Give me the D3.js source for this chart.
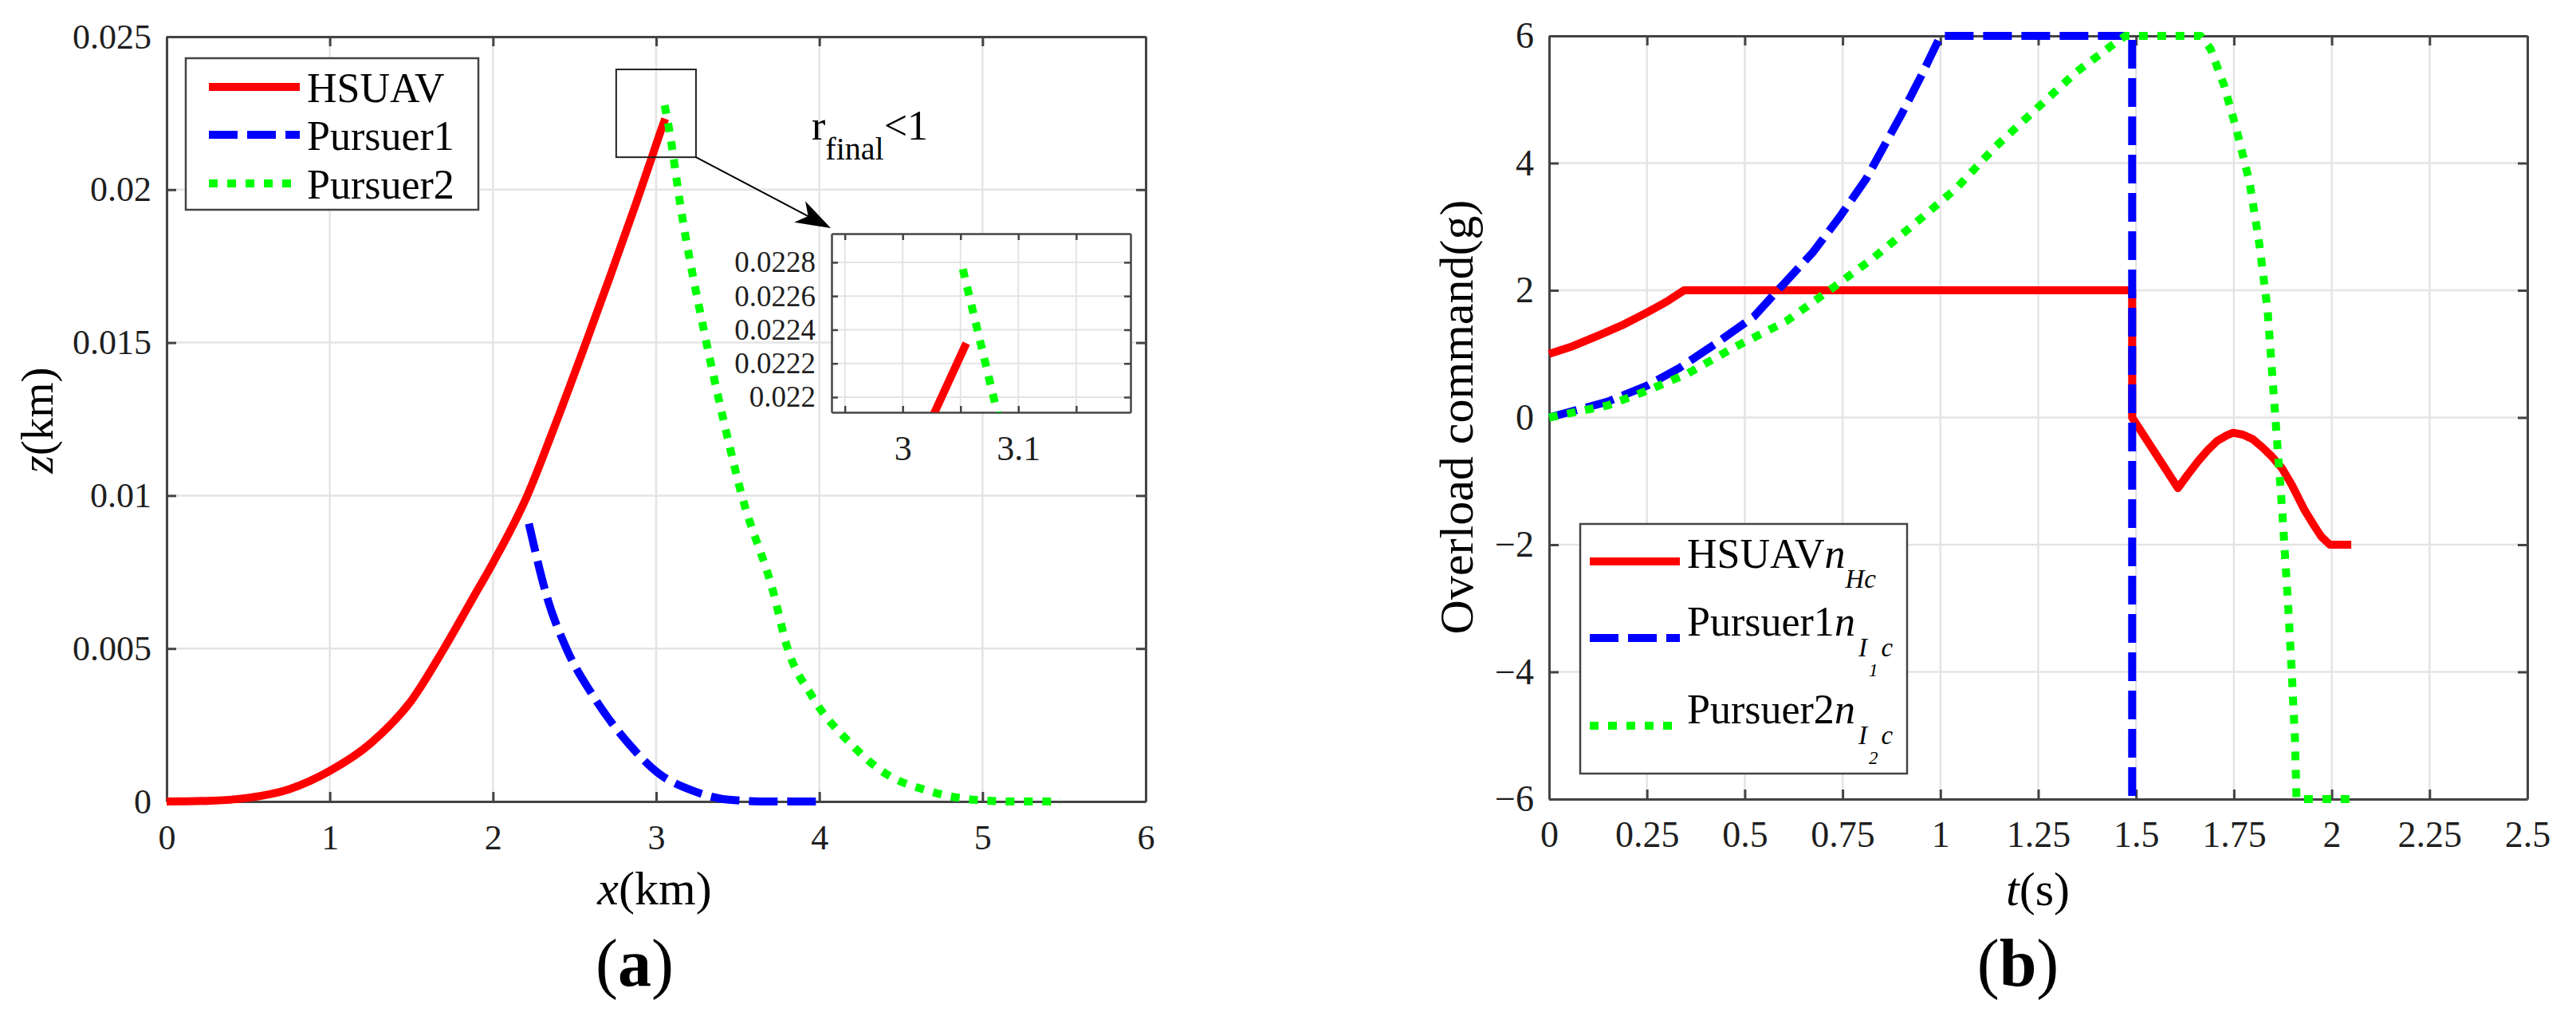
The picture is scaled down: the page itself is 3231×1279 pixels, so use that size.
<!DOCTYPE html>
<html>
<head>
  <meta charset="utf-8">
  <title>Trajectories and overload commands</title>
  <script type="text/javascript" src="https://cdn.jsdelivr.net/npm/d3@7"></script>
  <style>
    body { margin: 0; background: #fff; }
    svg text { font-family: "Liberation Serif", "Times New Roman", Times, serif; }
  </style>
</head>
<body>
<script type="text/javascript">
  // ---- data ----
  // (a) trajectories, x in km, z in km
  var hsuavX = [0, 0.25, 0.5, 0.75, 1.0, 1.25, 1.5, 1.7, 1.877, 2.0, 2.21, 2.366, 2.57, 2.72, 2.88, 2.97, 3.0276, 3.055];
  var hsuavZ = [0, 0.00002, 0.00012, 0.0004, 0.001, 0.0019, 0.0033, 0.005, 0.00665, 0.0078, 0.01, 0.0121, 0.015, 0.0172, 0.0196, 0.021, 0.02191, 0.02232];
  var pursuer1X = [2.22, 2.333, 2.45, 2.62, 2.83, 3.02, 3.22, 3.46, 3.7, 4.0];
  var pursuer1Z = [0.00908, 0.00665, 0.005, 0.0034, 0.0019, 0.0009, 0.00036, 0.00005, 0, 0];
  var pursuer2X = [3.052, 3.0817, 3.148, 3.295, 3.42, 3.52, 3.72, 3.8, 3.96, 4.19, 4.41, 4.66, 4.96, 5.2, 5.48];
  var pursuer2Z = [0.02276, 0.02191, 0.0195, 0.01534, 0.0123, 0.0101, 0.0068, 0.0051, 0.0034, 0.0019, 0.0009, 0.00036, 0.00005, 0, 0];

  var xTicksA = [0, 1, 2, 3, 4, 5, 6];
  var xTickLabelsA = ["0", "1", "2", "3", "4", "5", "6"];
  var zTicksA = [0, 0.005, 0.01, 0.015, 0.02, 0.025];
  var zTickLabelsA = ["0", "0.005", "0.01", "0.015", "0.02", "0.025"];
  var insetXTicks = [2.95, 3, 3.05, 3.1, 3.15];
  var insetXTickLabels = ["", "3", "", "3.1", ""];
  var insetZTicks = [0.022, 0.0222, 0.0224, 0.0226, 0.0228];
  var insetZTickLabels = ["0.022", "0.0222", "0.0224", "0.0226", "0.0228"];

  // (b) overload commands, t in s, n in g
  var hsuavT = [0, 0.06, 0.13, 0.19, 0.25, 0.3, 0.345, 1.49, 1.49, 1.607, 1.632, 1.657, 1.682, 1.707, 1.732, 1.748, 1.773, 1.798, 1.823, 1.848, 1.873, 1.898, 1.931, 1.956, 1.973, 1.995, 2.05];
  var hsuavN = [1, 1.12, 1.3, 1.46, 1.65, 1.82, 2, 2, 0, -1.11, -0.9, -0.7, -0.52, -0.37, -0.28, -0.24, -0.27, -0.34, -0.47, -0.62, -0.8, -1.06, -1.46, -1.71, -1.87, -2, -2];
  var pursuer1T = [0, 0.15, 0.25, 0.333, 0.428, 0.524, 0.592, 0.673, 0.741, 0.809, 0.85, 0.9, 0.95, 1.0, 1.49, 1.49];
  var pursuer1N = [0, 0.25, 0.5, 0.78, 1.17, 1.59, 2.05, 2.59, 3.14, 3.74, 4.2, 4.76, 5.36, 6, 6, -6];
  var pursuer2T = [0, 0.15, 0.25, 0.354, 0.469, 0.605, 0.714, 0.829, 0.931, 1.04, 1.141, 1.25, 1.349, 1.449, 1.473, 1.665, 1.69, 1.724, 1.757, 1.79, 1.815, 1.836, 1.848, 1.86, 1.873, 1.889, 1.898, 1.906, 1.91, 2.05];
  var pursuer2N = [0, 0.19, 0.42, 0.69, 1.09, 1.51, 1.99, 2.51, 3.03, 3.6, 4.26, 4.88, 5.44, 5.9, 6, 6, 5.8, 5.24, 4.52, 3.7, 2.73, 1.7, 0.68, -0.34, -1.42, -2.99, -4.02, -5.04, -6, -6];

  var tTicks = [0, 0.25, 0.5, 0.75, 1, 1.25, 1.5, 1.75, 2, 2.25, 2.5];
  var tTickLabels = ["0", "0.25", "0.5", "0.75", "1", "1.25", "1.5", "1.75", "2", "2.25", "2.5"];
  var nTicks = [-6, -4, -2, 0, 2, 4, 6];
  var nTickLabels = ["\u22126", "\u22124", "\u22122", "0", "2", "4", "6"];

  // ---- styles ----
  var SERIF = '"Liberation Serif", "Times New Roman", Times, serif';
  var GRID = "#e4e4e4";
  var AXIS = "#444";
  var LW = 10;
  var red = {color: "#ff0000", dash: null};
  var blue = {color: "#0000ff", dash: "36,12"};
  var green = {color: "#00ff00", dash: "11,12"};

  var W = 3231, H = 1279;
  var svg = d3.select("body").append("svg")
              .attr("width", W)
              .attr("height", H)
              .style("font-family", SERIF);
  svg.append("rect").attr("width", W).attr("height", H).attr("fill", "#fff");

  // grid, box and ticks on all four sides (MATLAB "box on")
  var drawFrame = function(g, x, y, xt, xl, yt, yl, o) {
    var xr = x.range(), yr = y.range();
    g.append("g").selectAll("line").data(xt).enter().append("line")
      .attr("x1", function(d) {return x(d);}).attr("x2", function(d) {return x(d);})
      .attr("y1", yr[0]).attr("y2", yr[1])
      .attr("stroke", GRID).attr("stroke-width", o.gw);
    g.append("g").selectAll("line").data(yt).enter().append("line")
      .attr("y1", function(d) {return y(d);}).attr("y2", function(d) {return y(d);})
      .attr("x1", xr[0]).attr("x2", xr[1])
      .attr("stroke", GRID).attr("stroke-width", o.gw);

    var axes = [
      [d3.axisBottom(x).tickValues(xt).tickFormat(function(d, i) {return xl[i];}).tickPadding(o.padB), "translate(0," + yr[0] + ")", o.fsX],
      [d3.axisTop(x).tickValues(xt).tickFormat(""), "translate(0," + yr[1] + ")", o.fsX],
      [d3.axisLeft(y).tickValues(yt).tickFormat(function(d, i) {return yl[i];}).tickPadding(o.padL), "translate(" + xr[0] + ",0)", o.fsY],
      [d3.axisRight(y).tickValues(yt).tickFormat(""), "translate(" + xr[1] + ",0)", o.fsY]
    ];
    axes.forEach(function(a) {
      var ag = g.append("g").attr("transform", a[1])
                .call(a[0].tickSize(-o.tick).tickSizeOuter(0));
      ag.attr("font-family", SERIF).attr("font-size", a[2]).attr("color", AXIS)
        .style("font-family", SERIF);
      ag.select(".domain").attr("stroke-width", o.aw);
      ag.selectAll(".tick line").attr("stroke-width", o.aw);
      ag.selectAll(".tick text").attr("fill", "#1e1e1e").style("font-family", SERIF);
    });
  };

  var drawSeries = function(g, x, y, xs, ys, st, curve) {
    var pts = xs.map(function(v, i) {return [v, ys[i]];});
    g.append("path")
      .datum(pts)
      .attr("d", d3.line().x(function(d) {return x(d[0]);}).y(function(d) {return y(d[1]);}).curve(curve))
      .attr("fill", "none")
      .attr("stroke", st.color)
      .attr("stroke-width", LW)
      .attr("stroke-linejoin", "round")
      .attr("stroke-dasharray", st.dash);
  };

  var drawLegend = function(g, box, rows) {
    g.append("rect").attr("x", box.x).attr("y", box.y).attr("width", box.w).attr("height", box.h)
      .attr("fill", "#fff").attr("stroke", AXIS).attr("stroke-width", 2.5);
    rows.forEach(function(r) {
      g.append("line").attr("x1", box.lx0).attr("x2", box.lx1).attr("y1", r.y).attr("y2", r.y)
        .attr("stroke", r.st.color).attr("stroke-width", LW).attr("stroke-dasharray", r.st.dash);
      var t = g.append("text").attr("x", box.tx).attr("y", r.y + r.base)
                .attr("font-size", 52).attr("fill", "#000");
      r.parts.forEach(function(p) {
        var s = t.append("tspan").text(p.t);
        if (p.it) s.attr("font-style", "italic");
        if (p.fs) s.attr("font-size", p.fs);
        if (p.dy) s.attr("dy", p.dy);
        if (p.dx) s.attr("dx", p.dx);
      });
    });
  };

  // ================= (a) =================
  var xA = d3.scaleLinear().domain([0, 6]).range([209, 1437]);
  var zA = d3.scaleLinear().domain([0, 0.025]).range([1005, 46]);
  var gA = svg.append("g");
  drawFrame(gA, xA, zA, xTicksA, xTickLabelsA, zTicksA, zTickLabelsA,
            {gw: 2.5, aw: 3, tick: 12, fsX: 44, fsY: 44, padB: 29, padL: 19});

  drawSeries(gA, xA, zA, hsuavX, hsuavZ, red, d3.curveMonotoneX);
  drawSeries(gA, xA, zA, pursuer1X, pursuer1Z, blue, d3.curveMonotoneX);
  drawSeries(gA, xA, zA, pursuer2X, pursuer2Z, green, d3.curveMonotoneX);

  gA.append("text").attr("x", 821).attr("y", 1134).attr("text-anchor", "middle").attr("font-size", 60)
    .call(function(t) {
      t.append("tspan").attr("font-style", "italic").text("x");
      t.append("tspan").text("(km)");
    });
  gA.append("text").attr("transform", "translate(66,527) rotate(-90)").attr("text-anchor", "middle").attr("font-size", 57)
    .call(function(t) {
      t.append("tspan").attr("font-style", "italic").text("z");
      t.append("tspan").text("(km)");
    });

  drawLegend(gA, {x: 233, y: 73, w: 367, h: 190, lx0: 262, lx1: 376, tx: 385}, [
    {y: 109, base: 19, st: red, parts: [{t: "HSUAV"}]},
    {y: 169, base: 19, st: blue, parts: [{t: "Pursuer1"}]},
    {y: 230, base: 19, st: green, parts: [{t: "Pursuer2"}]}
  ]);

  // zoom box, arrow and r_final annotation
  var zoomBox = {x0: 2.755, x1: 3.244, z0: 0.02106, z1: 0.02393};
  gA.append("rect")
    .attr("x", xA(zoomBox.x0)).attr("y", zA(zoomBox.z1))
    .attr("width", xA(zoomBox.x1) - xA(zoomBox.x0)).attr("height", zA(zoomBox.z0) - zA(zoomBox.z1))
    .attr("fill", "none").attr("stroke", "#222").attr("stroke-width", 2);

  var inset = {left: 1043, right: 1418, top: 293, bottom: 517};
  var a0 = [xA(zoomBox.x1), zA(zoomBox.z0)];
  var a1 = [inset.left - 1, inset.top - 7];
  var len = Math.hypot(a1[0] - a0[0], a1[1] - a0[1]);
  var ux = (a1[0] - a0[0]) / len, uy = (a1[1] - a0[1]) / len;
  gA.append("line").attr("x1", a0[0]).attr("y1", a0[1])
    .attr("x2", a1[0] - ux * 30).attr("y2", a1[1] - uy * 30)
    .attr("stroke", "#000").attr("stroke-width", 2);
  var hb = [a1[0] - ux * 44, a1[1] - uy * 44];
  gA.append("path")
    .attr("d", "M" + a1[0] + "," + a1[1] +
               "L" + (hb[0] - uy * 15) + "," + (hb[1] + ux * 15) +
               "L" + (a1[0] - ux * 32) + "," + (a1[1] - uy * 32) +
               "L" + (hb[0] + uy * 15) + "," + (hb[1] - ux * 15) + "Z")
    .attr("fill", "#000");

  gA.append("text").attr("x", 1018).attr("y", 175).attr("font-size", 52).attr("fill", "#000")
    .call(function(t) {
      t.append("tspan").text("r");
      t.append("tspan").attr("font-size", 40).attr("dy", 25).text("final");
      t.append("tspan").attr("dy", -25).text("<1");
    });

  // inset
  var xI = d3.scaleLinear().domain([2.9385, 3.197]).range([inset.left, inset.right]);
  var zI = d3.scaleLinear().domain([0.02191, 0.02297]).range([inset.bottom, inset.top]);
  var gI = gA.append("g");
  gI.append("rect").attr("x", inset.left).attr("y", inset.top)
    .attr("width", inset.right - inset.left).attr("height", inset.bottom - inset.top).attr("fill", "#fff");
  svg.append("clipPath").attr("id", "insetClip").append("rect")
    .attr("x", inset.left).attr("y", inset.top)
    .attr("width", inset.right - inset.left).attr("height", inset.bottom - inset.top);
  drawFrame(gI, xI, zI, insetXTicks, insetXTickLabels, insetZTicks, insetZTickLabels,
            {gw: 2, aw: 2.5, tick: 8, fsX: 44, fsY: 37, padB: 29, padL: 20});
  var gIc = gI.append("g").attr("clip-path", "url(#insetClip)");
  drawSeries(gIc, xI, zI, hsuavX, hsuavZ, red, d3.curveLinear);
  drawSeries(gIc, xI, zI, pursuer2X, pursuer2Z, green, d3.curveLinear);

  svg.append("text").attr("x", 796).attr("y", 1236).attr("text-anchor", "middle").attr("font-size", 84)
    .call(function(t) {
      t.append("tspan").text("(");
      t.append("tspan").attr("font-weight", "bold").text("a");
      t.append("tspan").text(")");
    });

  // ================= (b) =================
  var xB = d3.scaleLinear().domain([0, 2.5]).range([1943, 3170]);
  var yB = d3.scaleLinear().domain([-6, 6]).range([1002, 45]);
  var gB = svg.append("g");
  drawFrame(gB, xB, yB, tTicks, tTickLabels, nTicks, nTickLabels,
            {gw: 2.5, aw: 3, tick: 12, fsX: 46, fsY: 46, padB: 27, padL: 19});

  drawSeries(gB, xB, yB, hsuavT, hsuavN, red, d3.curveLinear);
  drawSeries(gB, xB, yB, pursuer1T, pursuer1N, blue, d3.curveLinear);
  drawSeries(gB, xB, yB, pursuer2T, pursuer2N, green, d3.curveLinear);

  gB.append("text").attr("x", 2556).attr("y", 1135).attr("text-anchor", "middle").attr("font-size", 60)
    .call(function(t) {
      t.append("tspan").attr("font-style", "italic").text("t");
      t.append("tspan").text("(s)");
    });
  gB.append("text").attr("transform", "translate(1847,523) rotate(-90)").attr("text-anchor", "middle")
    .attr("font-size", 60).text("Overload command(g)");

  drawLegend(gB, {x: 1982, y: 657, w: 410, h: 313, lx0: 1994, lx1: 2107, tx: 2116}, [
    {y: 704, base: 8, st: red, parts: [
      {t: "HSUAV"}, {t: "n", it: true}, {t: "Hc", it: true, fs: 33, dy: 25}]},
    {y: 800, base: -3, st: blue, parts: [
      {t: "Pursuer1"}, {t: "n", it: true}, {t: "I", it: true, fs: 33, dy: 26, dx: 4},
      {t: "1", it: true, fs: 23, dy: 25, dx: 2}, {t: "c", it: true, fs: 33, dy: -25, dx: 4}]},
    {y: 910, base: -3, st: green, parts: [
      {t: "Pursuer2"}, {t: "n", it: true}, {t: "I", it: true, fs: 33, dy: 26, dx: 4},
      {t: "2", it: true, fs: 23, dy: 25, dx: 2}, {t: "c", it: true, fs: 33, dy: -25, dx: 4}]}
  ]);

  svg.append("text").attr("x", 2531).attr("y", 1236).attr("text-anchor", "middle").attr("font-size", 84)
    .call(function(t) {
      t.append("tspan").text("(");
      t.append("tspan").attr("font-weight", "bold").text("b");
      t.append("tspan").text(")");
    });
</script>
</body>
</html>
